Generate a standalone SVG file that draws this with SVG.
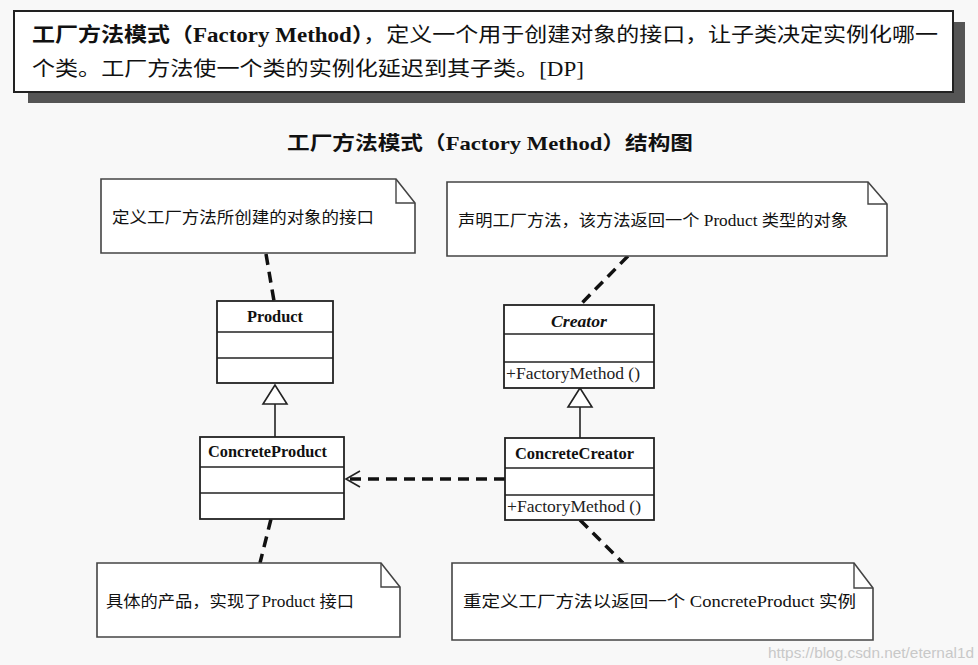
<svg xmlns="http://www.w3.org/2000/svg" width="978" height="665" viewBox="0 0 978 665">
<defs>
<style>
.bg{fill:#f8f8f8}
.box{fill:#ffffff;stroke:#222;stroke-width:2}
.note{fill:#ffffff;stroke:#444;stroke-width:1.6}
.fold{fill:none;stroke:#444;stroke-width:1.4}
.cls{fill:#ffffff;stroke:#222;stroke-width:1.8}
.div{stroke:#222;stroke-width:1.5}
.dash{fill:none;stroke:#111;stroke-width:3.5;stroke-dasharray:11 7}
.solid{fill:none;stroke:#222;stroke-width:1.6}
.tri{fill:#ffffff;stroke:#222;stroke-width:1.6}
.hdr{font-family:"Liberation Serif","Noto Sans CJK SC",serif;font-size:20px;fill:#111}
.ttl{font-family:"Liberation Serif","Noto Sans CJK SC",serif;font-size:19px;font-weight:bold;fill:#111}
.ntxt{font-family:"Liberation Serif","Noto Sans CJK SC",serif;font-size:16px;fill:#111}
.cname{font-family:"Liberation Serif","Noto Sans CJK SC",serif;font-size:16.5px;font-weight:bold;fill:#111}
.op{font-family:"Liberation Serif",serif;font-size:16.5px;fill:#222}
.wm{font-family:"Liberation Sans",sans-serif;font-size:15px;fill:#c8c8c8}
</style>
<marker id="open" markerWidth="18" markerHeight="20" refX="15" refY="10" orient="auto" markerUnits="userSpaceOnUse">
<path d="M1,2 L15,10 L1,18" fill="none" stroke="#222" stroke-width="1.6"/>
</marker>
</defs>
<rect class="bg" x="0" y="0" width="978" height="665"/>

<g id="header">
<rect x="28" y="22" width="937" height="81" fill="#555"/>
<rect class="box" x="14" y="11" width="939" height="81"/>
<text class="hdr" x="32" y="42" textLength="906" lengthAdjust="spacingAndGlyphs"><tspan font-weight="bold">工厂方法模式（Factory Method）</tspan>，定义一个用于创建对象的接口，让子类决定实例化哪一</text>
<text class="hdr" x="32" y="76" textLength="552" lengthAdjust="spacingAndGlyphs">个类。工厂方法使一个类的实例化延迟到其子类。[DP]</text>
</g>

<g id="title">
<text class="ttl" x="287" y="150" textLength="406" lengthAdjust="spacingAndGlyphs">工厂方法模式（Factory Method）结构图</text>
</g>

<g id="connectors">
<line class="dash" x1="266" y1="254" x2="274" y2="301"/>
<line class="dash" x1="628" y1="256" x2="580" y2="305"/>
<line class="dash" x1="271" y1="519" x2="260" y2="563"/>
<line class="dash" x1="580" y1="520" x2="623" y2="563"/>
<line class="dash" x1="505" y1="479" x2="346" y2="479" marker-end="url(#open)"/>
<line class="solid" x1="275" y1="404" x2="275" y2="437"/>
<polygon class="tri" points="275,385 263,404 287,404"/>
<line class="solid" x1="580" y1="407" x2="580" y2="438"/>
<polygon class="tri" points="580,388 568,407 592,407"/>
</g>

<g id="note-product">
<path class="note" d="M101,179 H396 L415,203 V253 H101 Z"/>
<path class="fold" d="M396,179 V203 H415"/>
<text class="ntxt" x="112" y="223" textLength="262" lengthAdjust="spacingAndGlyphs">定义工厂方法所创建的对象的接口</text>
</g>

<g id="note-creator">
<path class="note" d="M447,182 H868 L887,204 V256 H447 Z"/>
<path class="fold" d="M868,182 V204 H887"/>
<text class="ntxt" x="458" y="226" textLength="390" lengthAdjust="spacingAndGlyphs">声明工厂方法，该方法返回一个 Product 类型的对象</text>
</g>

<g id="note-concreteproduct">
<path class="note" d="M97,563 H381 L400,587 V637 H97 Z"/>
<path class="fold" d="M381,563 V587 H400"/>
<text class="ntxt" x="106" y="607" textLength="248" lengthAdjust="spacingAndGlyphs">具体的产品，实现了Product 接口</text>
</g>

<g id="note-concretecreator">
<path class="note" d="M452,563 H854 L873,588 V640 H452 Z"/>
<path class="fold" d="M854,563 V588 H873"/>
<text class="ntxt" x="463" y="607" textLength="393" lengthAdjust="spacingAndGlyphs">重定义工厂方法以返回一个 ConcreteProduct 实例</text>
</g>

<g id="class-product">
<rect class="cls" x="217" y="301" width="116" height="82"/>
<line class="div" x1="217" y1="332" x2="333" y2="332"/>
<line class="div" x1="217" y1="358" x2="333" y2="358"/>
<text class="cname" x="247" y="322" textLength="56" lengthAdjust="spacingAndGlyphs">Product</text>
</g>

<g id="class-creator">
<rect class="cls" x="504" y="305" width="150" height="83"/>
<line class="div" x1="504" y1="334" x2="654" y2="334"/>
<line class="div" x1="504" y1="362" x2="654" y2="362"/>
<text class="cname" x="551" y="327" font-style="italic" textLength="56" lengthAdjust="spacingAndGlyphs">Creator</text>
<text class="op" x="506" y="379" textLength="134" lengthAdjust="spacingAndGlyphs">+FactoryMethod ()</text>
</g>

<g id="class-concreteproduct">
<rect class="cls" x="200" y="437" width="144" height="82"/>
<line class="div" x1="200" y1="467" x2="344" y2="467"/>
<line class="div" x1="200" y1="493" x2="344" y2="493"/>
<text class="cname" x="208" y="457" textLength="119" lengthAdjust="spacingAndGlyphs">ConcreteProduct</text>
</g>

<g id="class-concretecreator">
<rect class="cls" x="505" y="438" width="149" height="82"/>
<line class="div" x1="505" y1="468" x2="654" y2="468"/>
<line class="div" x1="505" y1="495" x2="654" y2="495"/>
<text class="cname" x="515" y="459" textLength="119" lengthAdjust="spacingAndGlyphs">ConcreteCreator</text>
<text class="op" x="507" y="512" textLength="134" lengthAdjust="spacingAndGlyphs">+FactoryMethod ()</text>
</g>

<text class="wm" x="768" y="658" textLength="206" lengthAdjust="spacingAndGlyphs">https://blog.csdn.net/eternal1d</text>
</svg>
